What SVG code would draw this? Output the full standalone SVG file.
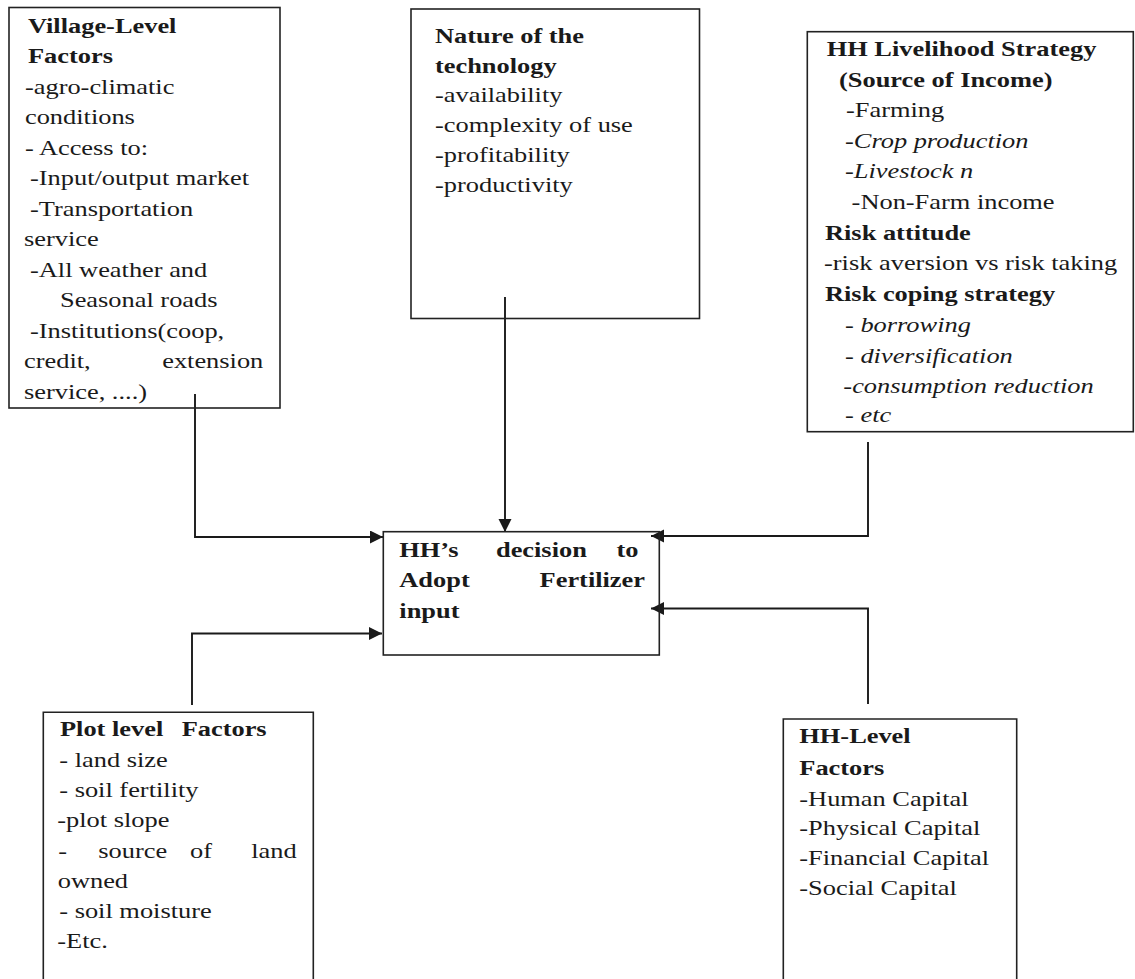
<svg xmlns="http://www.w3.org/2000/svg" width="1135" height="979" viewBox="0 0 1135 979">
<style>
.bg{fill:#ffffff}
.box{fill:none;stroke:#222;stroke-width:1.6}
.con{fill:none;stroke:#1a1a1a;stroke-width:1.9}
.t{font-family:"Liberation Serif","Times New Roman",serif;font-size:22px;fill:#1a1a1a}
.b{font-weight:bold}
.i{font-style:italic}
</style>
<defs>
<marker id="ah" markerUnits="userSpaceOnUse" markerWidth="15" markerHeight="14" refX="13" refY="6.5" orient="auto">
<path d="M0,0 L13,6.5 L0,13 z" fill="#1a1a1a"/>
</marker>
</defs>
<rect class="bg" x="0" y="0" width="1135" height="979"/>

<g id="connectors">
<path class="con" d="M195,394 V537 H383" marker-end="url(#ah)"/>
<path class="con" d="M505,297 V532" marker-end="url(#ah)"/>
<path class="con" d="M868,442 V536 H651" marker-end="url(#ah)"/>
<path class="con" d="M192,705 V633.5 H382" marker-end="url(#ah)"/>
<path class="con" d="M868,704 V608.5 H651" marker-end="url(#ah)"/>
</g>

<g id="village">
<rect class="box" x="9" y="7.5" width="271" height="400.5"/>
<text class="t" transform="scale(1.2,1)">
<tspan class="b" x="23.3" y="33">Village-Level</tspan>
<tspan class="b" x="23.3" y="63.5">Factors</tspan>
<tspan x="20.8" y="94">-agro-climatic</tspan>
<tspan x="20.8" y="124.5">conditions</tspan>
<tspan x="20.8" y="155">- Access to:</tspan>
<tspan x="25" y="185.5">-Input/output market</tspan>
<tspan x="25" y="216">-Transportation</tspan>
<tspan x="20" y="246.5">service</tspan>
<tspan x="25" y="277">-All weather and</tspan>
<tspan x="50" y="307.5">Seasonal roads</tspan>
<tspan x="25" y="338">-Institutions(coop,</tspan>
<tspan x="20" y="368.5">credit,</tspan>
<tspan x="20" y="399">service, ....)</tspan>
</text>
<text class="t" transform="scale(1.2,1)" x="219.4" y="368.5" text-anchor="end">extension</text>
</g>

<g id="technology">
<rect class="box" x="411" y="9" width="288.5" height="309.5"/>
<text class="t" transform="scale(1.2,1)">
<tspan class="b" x="362.5" y="43.3">Nature of the</tspan>
<tspan class="b" x="362.5" y="72.7">technology</tspan>
<tspan x="362.5" y="101.7">-availability</tspan>
<tspan x="362.5" y="131.7">-complexity of use</tspan>
<tspan x="362.5" y="161.7">-profitability</tspan>
<tspan x="362.5" y="191.7">-productivity</tspan>
</text>
</g>

<g id="livelihood">
<rect class="box" x="807.3" y="31.7" width="326" height="400"/>
<text class="t" transform="scale(1.2,1)">
<tspan class="b" x="688.9" y="56">HH Livelihood Strategy</tspan>
<tspan class="b" x="699.2" y="86.7">(Source of Income)</tspan>
<tspan x="705" y="117">-Farming</tspan>
<tspan class="i" x="704.2" y="148">-Crop production</tspan>
<tspan class="i" x="704.2" y="178.5">-Livestock n</tspan>
<tspan x="709.7" y="209.3">-Non-Farm income</tspan>
<tspan class="b" x="687.5" y="240">Risk attitude</tspan>
<tspan x="686.7" y="270">-risk aversion vs risk taking</tspan>
<tspan class="b" x="687.5" y="300.7">Risk coping strategy</tspan>
<tspan class="i" x="704.2" y="331.7">- borrowing</tspan>
<tspan class="i" x="704.2" y="362.7">- diversification</tspan>
<tspan class="i" x="702.8" y="392.7">-consumption reduction</tspan>
<tspan class="i" x="704.2" y="421.7">- etc</tspan>
</text>
</g>

<g id="decision">
<rect class="box" x="383.3" y="531.7" width="276" height="123.3"/>
<text class="t b" transform="scale(1.2,1)">
<tspan x="332.75" y="557">HH’s</tspan>
<tspan x="413.3" y="557">decision</tspan>
<tspan x="332.75" y="587">Adopt</tspan>
<tspan x="332.75" y="618">input</tspan>
</text>
<text class="t b" transform="scale(1.2,1)" text-anchor="end">
<tspan x="537.5" y="557">to</tspan>
<tspan x="537.5" y="587">Fertilizer</tspan>
</text>
</g>

<g id="plot">
<path class="box" d="M43.3,990 V712.3 H313.3 V990"/>
<text class="t" transform="scale(1.2,1)">
<tspan class="b" x="50" y="736">Plot level</tspan>
<tspan class="b" x="151.4" y="736">Factors</tspan>
<tspan x="49.4" y="766.7">- land size</tspan>
<tspan x="49.4" y="796.7">- soil fertility</tspan>
<tspan x="47.75" y="826.7">-plot slope</tspan>
<tspan x="48.6" y="857.7">-</tspan>
<tspan x="81.9" y="857.7">source</tspan>
<tspan x="158.3" y="857.7">of</tspan>
<tspan x="48.1" y="888.3">owned</tspan>
<tspan x="49.4" y="918.3">- soil moisture</tspan>
<tspan x="47.75" y="948.3">-Etc.</tspan>
</text>
<text class="t" transform="scale(1.2,1)" x="247.25" y="857.7" text-anchor="end">land</text>
</g>

<g id="hhlevel">
<path class="box" d="M783.3,990 V719 H1016.7 V990"/>
<text class="t" transform="scale(1.2,1)">
<tspan class="b" x="666.1" y="743.3">HH-Level</tspan>
<tspan class="b" x="666.1" y="775">Factors</tspan>
<tspan x="666.1" y="805.7">-Human Capital</tspan>
<tspan x="666.1" y="835">-Physical Capital</tspan>
<tspan x="666.1" y="865">-Financial Capital</tspan>
<tspan x="666.1" y="895">-Social Capital</tspan>
</text>
</g>
</svg>
